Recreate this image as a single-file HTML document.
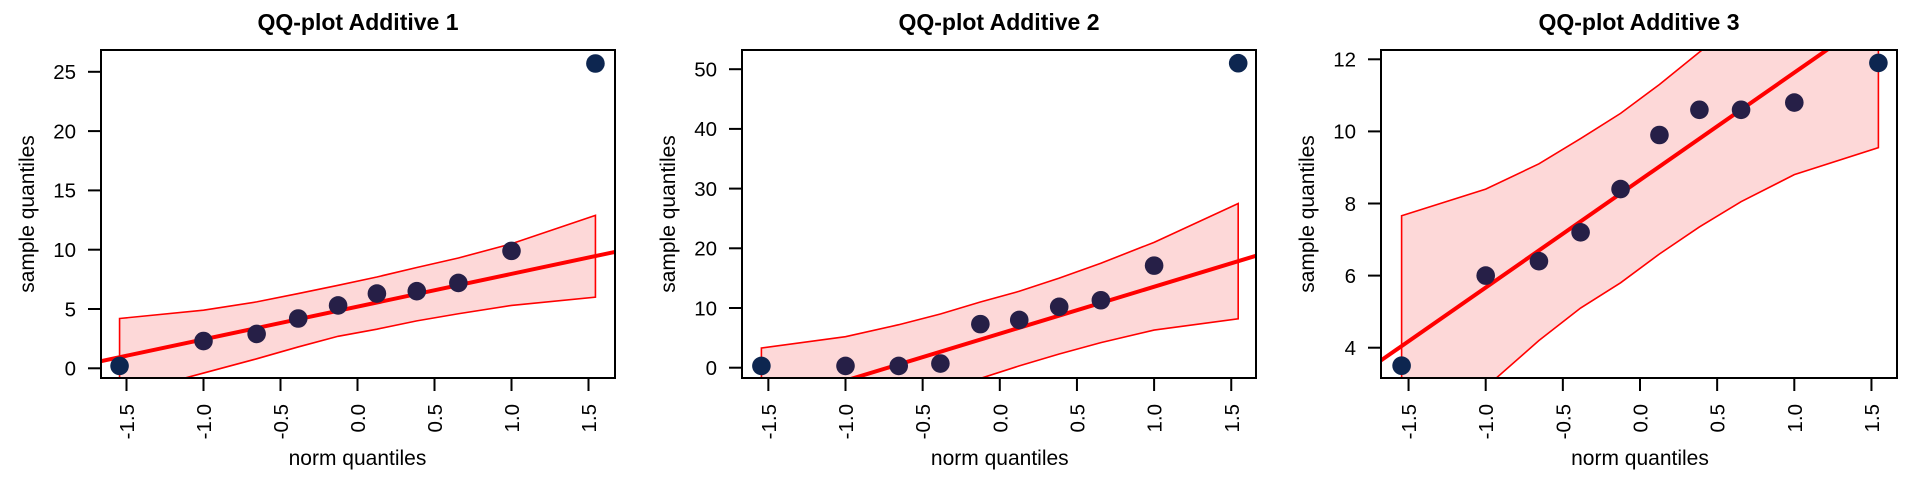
<!DOCTYPE html>
<html><head><meta charset="utf-8">
<style>
html,body{margin:0;padding:0;background:#fff;}
svg{display:block;font-family:"Liberation Sans",Arial,sans-serif;}
</style></head>
<body>
<svg id="chart" width="1920" height="480" viewBox="0 0 1920 480" xmlns="http://www.w3.org/2000/svg"></svg>
<script>
// Shared theoretical quantiles
const normQuantiles = [-1.545, -1.0, -0.655, -0.385, -0.126, 0.126, 0.385, 0.655, 1.0, 1.545];
const xTickValues = [-1.5, -1.0, -0.5, 0.0, 0.5, 1.0, 1.5];
const xTickLabels = ["-1.5", "-1.0", "-0.5", "0.0", "0.5", "1.0", "1.5"];

// Panel 1
const sample1 = [0.2, 2.3, 2.9, 4.2, 5.3, 6.3, 6.5, 7.2, 9.9, 25.7];
const upper1 = [4.2, 4.9, 5.6, 6.3, 7.0, 7.7, 8.5, 9.3, 10.5, 12.9];
const lower1 = [-2.3, -0.4, 0.8, 1.8, 2.7, 3.3, 4.0, 4.6, 5.3, 6.0];
const line1 = [5.2, 2.76]; // intercept, slope
const yTicks1 = [0, 5, 10, 15, 20, 25];

// Panel 2
const sample2 = [0.3, 0.3, 0.3, 0.7, 7.3, 8.0, 10.2, 11.3, 17.1, 51.0];
const upper2 = [3.3, 5.2, 7.2, 9.0, 11.0, 12.8, 15.0, 17.5, 21.0, 27.5];
const lower2 = [-13, -8, -6, -4, -1.8, 0.3, 2.3, 4.2, 6.3, 8.2];
const line2 = [5.7, 7.86];
const yTicks2 = [0, 10, 20, 30, 40, 50];

// Panel 3
const sample3 = [3.5, 6.0, 6.4, 7.2, 8.4, 9.9, 10.6, 10.6, 10.8, 11.9];
const upper3 = [7.66, 8.4, 9.1, 9.8, 10.5, 11.3, 12.2, 13.1, 14.3, 16.0];
const lower3 = [0.5, 2.9, 4.2, 5.1, 5.8, 6.6, 7.35, 8.05, 8.8, 9.55];
const line3 = [8.65, 2.98];
const yTicks3 = [4, 6, 8, 10, 12];

const NS = "http://www.w3.org/2000/svg";
const svg = document.getElementById("chart");
function mk(tag, attrs, parent){
  const e = document.createElementNS(NS, tag);
  for (const k in attrs) e.setAttribute(k, attrs[k]);
  (parent || svg).appendChild(e);
  return e;
}

const panels = [
  {title:"QQ-plot Additive 1", sample:sample1, upper:upper1, lower:lower1, line:line1, yTicks:yTicks1,
   left:101, right:615, top:50, bottom:378, x0px:357.5, xUnit:154, yRefVal:0, yRefPx:368.3, yUnit:11.86},
  {title:"QQ-plot Additive 2", sample:sample2, upper:upper2, lower:lower2, line:line2, yTicks:yTicks2,
   left:742, right:1256, top:50, bottom:378, x0px:999.8, xUnit:154.3, yRefVal:0, yRefPx:367.7, yUnit:5.97},
  {title:"QQ-plot Additive 3", sample:sample3, upper:upper3, lower:lower3, line:line3, yTicks:yTicks3,
   left:1381, right:1897, top:50, bottom:378, x0px:1640, xUnit:154.3, yRefVal:4, yRefPx:347.7, yUnit:36.05}
];

panels.forEach((p, pi) => {
  const g = mk("g", {});
  
  
  const sx = v => p.x0px + v * p.xUnit;
  const sy = v => p.yRefPx - (v - p.yRefVal) * p.yUnit;
  const xMin = (p.left - p.x0px) / p.xUnit, xMax = (p.right - p.x0px) / p.xUnit;

  const clipId = "clip" + pi;
  const cp = mk("clipPath", {id: clipId}, g);
  mk("rect", {x:p.left, y:p.top, width:p.right-p.left, height:p.bottom-p.top}, cp);
  const plotG = mk("g", {"clip-path":"url(#"+clipId+")"}, g);

  let pts = normQuantiles.map((q,i)=> sx(q)+","+sy(p.upper[i]));
  for (let i = normQuantiles.length-1; i >= 0; i--) pts.push(sx(normQuantiles[i])+","+sy(p.lower[i]));
  const band = mk("polygon", {points: pts.join(" "), fill:"#fdd8d8", stroke:"#ff0000", "stroke-width":1.6}, plotG);
  
  

  const ln = mk("line", {x1:sx(xMin), y1:sy(p.line[0]+p.line[1]*xMin), x2:sx(xMax), y2:sy(p.line[0]+p.line[1]*xMax),
    stroke:"#ff0000", "stroke-width":4}, plotG);
  
  

  p.sample.forEach((v,i)=>{
    const extreme = (i === 0 || i === p.sample.length-1);
    const c = mk("circle", {cx:sx(normQuantiles[i]), cy:sy(v), r:9.3, fill: extreme ? "#0d2650" : "#261f47"}, plotG);
    
    
  });

  const box = mk("rect", {x:p.left, y:p.top, width:p.right-p.left, height:p.bottom-p.top, fill:"none", stroke:"#000", "stroke-width":2}, g);
  
  

  const t = mk("text", {x:(p.left+p.right)/2, y:30, "text-anchor":"middle", "font-size":23, "font-weight":"bold", fill:"#000"}, g);
  t.textContent = p.title;
  
  

  p.yTicks.forEach(v=>{
    const y = sy(v);
    mk("line", {x1:p.left-13, y1:y, x2:p.left, y2:y, stroke:"#000", "stroke-width":2}, g);
    const tl = mk("text", {x:p.left-25, y:y+7.3, "text-anchor":"end", "font-size":20.5, fill:"#000"}, g);
    tl.textContent = String(v);
    
    
  });
  const yl = mk("text", {x:0, y:0, "text-anchor":"middle", "font-size":21, fill:"#000",
    transform:"translate("+(p.left-67)+","+((p.top+p.bottom)/2)+") rotate(-90)"}, g);
  yl.textContent = "sample quantiles";
  
  

  xTickValues.forEach((v,i)=>{
    const x = sx(v);
    mk("line", {x1:x, y1:p.bottom, x2:x, y2:p.bottom+13, stroke:"#000", "stroke-width":2}, g);
    const tl = mk("text", {x:0, y:0, "text-anchor":"end", "font-size":20.5, fill:"#000",
      transform:"translate("+(x+7.5)+","+(p.bottom+26)+") rotate(-90)"}, g);
    tl.textContent = xTickLabels[i];
    
    
  });
  const xl = mk("text", {x:sx(0), y:465, "text-anchor":"middle", "font-size":21, fill:"#000"}, g);
  xl.textContent = "norm quantiles";
  
  
});
</script>
</body></html>
